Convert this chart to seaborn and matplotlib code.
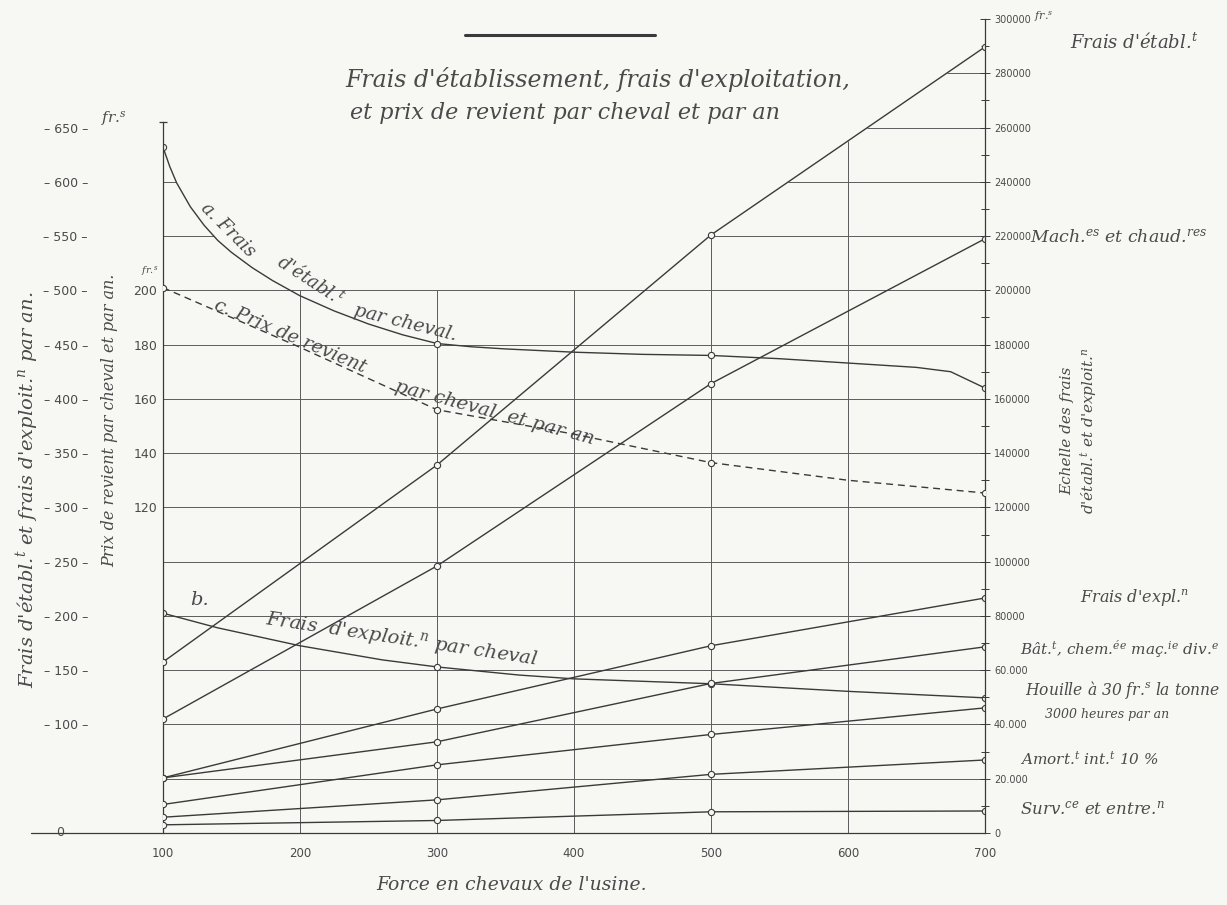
import matplotlib
matplotlib.use("Agg")
import matplotlib.pyplot as plt
import seaborn as sns
import numpy as np

# Force de l'usine (chevaux) aux points relevés
force = [100, 300, 500, 700]

# Frais annuels totaux en francs (échelle de droite)
frais_etabl = [63000, 135600, 220400, 289700]
mach_chaud = [42000, 98400, 165600, 219000]
frais_expl = [20300, 45700, 69000, 86600]
bat_chem = [20300, 33600, 55100, 68600]
houille = [10500, 25100, 36300, 46100]
amort_int = [5800, 12200, 21600, 26900]
surv_entre = [3000, 4600, 7800, 8100]

# courbe a : frais d'établissement par cheval (fr.)
force_a = [100, 105, 110, 120, 130, 140, 150, 165, 180, 200, 225, 250, 275,
           300, 325, 350, 400, 450, 500, 550, 600, 650, 675, 700]
etabl_cheval = [632, 614, 599, 577, 560, 546, 535, 521, 509, 495, 481, 469, 459,
                451, 448, 446, 443, 441, 440, 437, 433, 429, 425, 410]

# courbe b : frais d'exploitation par cheval (fr.)
force_b = [100, 140, 200, 260, 300, 360, 400, 500, 600, 700]
expl_cheval = [202.5, 189, 172.5, 159.5, 153, 145.5, 142, 137.5, 130.5, 124.5]

# courbe c : prix de revient par cheval et par an (fr.)
force_c = [100, 200, 300, 400, 500, 600, 700]
prix_revient = [201, 179, 156, 147, 136.5, 130, 125.3]

# échelles
x_ticks = [100, 200, 300, 400, 500, 600, 700]
left_ticks = [100, 150, 200, 250, 300, 350, 400, 450, 500, 550, 600, 650]
prix_ticks = [120, 140, 160, 180, 200]
right_ticks = list(range(0, 300001, 20000))
right_labels = ["0", "20.000", "40.000", "60.000", "80000", "100000", "120000",
                "140000", "160000", "180000", "200000", "220000", "240000",
                "260000", "280000", "300000"]

PAPER = "#f7f7f4"
INK = "#3a3a3a"
GRID = "#5c5c5c"
TXT = "#4a4a4a"

sns.set_theme(style="white")
plt.rcParams["font.family"] = ["DejaVu Sans"]
plt.rcParams["mathtext.fontset"] = "dejavuserif"
plt.rcParams["mathtext.default"] = "it"

SCRIPT = dict(family="DejaVu Serif", style="italic", color=TXT)

fig = plt.figure(figsize=(12.27, 9.05), dpi=100, facecolor=PAPER)
ax = fig.add_axes([0.1328, 0.0796, 0.6699, 0.8994])
ax.set_facecolor("none")
ax2 = ax.twinx()   # francs
ax3 = ax.twinx()   # prix de revient
for a_ in (ax2, ax3):
    a_.set_facecolor("none")

ax.set_xlim(100, 700)
ax.set_ylim(0, 750)
ax2.set_ylim(0, 300000)
ax3.set_ylim(0, 300)

# ---- quadrillage
ax.hlines(left_ticks[:9] + [50], 100, 700, color=GRID, lw=0.7)
ax.vlines([200, 300, 400], 0, 500, color=GRID, lw=0.7)
top_500_600 = np.interp([500, 600], force, frais_etabl) / 400
ax.vlines([500, 600], 0, top_500_600, color=GRID, lw=0.7)
for lev in [550, 600, 650, 700]:
    x0 = np.interp(lev * 400, frais_etabl, force)
    ax.hlines(lev, x0, 700, color=GRID, lw=0.7)
for lev in [550, 600]:
    x1 = np.interp(lev, etabl_cheval[::-1], force_a[::-1])
    ax.hlines(lev, 100, x1, color=GRID, lw=0.7)

# ---- frais totaux
mk = dict(marker="o", markersize=4.5, markerfacecolor=PAPER,
          markeredgecolor=INK, markeredgewidth=0.8)
for serie in [frais_etabl, mach_chaud, frais_expl, bat_chem,
              houille, amort_int, surv_entre]:
    sns.lineplot(x=force, y=serie, ax=ax2, color=INK, lw=1.0, **mk)

# ---- courbes par cheval
sns.lineplot(x=force_a, y=etabl_cheval, ax=ax, color=INK, lw=1.0,
             markevery=[force_a.index(f) for f in force], **mk)
sns.lineplot(x=force_b, y=expl_cheval, ax=ax, color=INK, lw=1.0,
             markevery=[force_b.index(f) for f in force], **mk)
sns.lineplot(x=force_c, y=prix_revient, ax=ax3, color=INK, lw=1.0,
             linestyle=(0, (5, 3.5)),
             markevery=[force_c.index(f) for f in force], **mk)

# ---- axes
for a_ in (ax, ax2, ax3):
    for s in a_.spines.values():
        s.set_visible(False)
ax.spines["left"].set_visible(True)
ax.spines["left"].set_bounds(0, 655)
ax.spines["left"].set_color(INK)
ax.spines["left"].set_linewidth(0.9)
ax.hlines(655, 97, 103, color=INK, lw=0.9, clip_on=False)
ax2.spines["right"].set_visible(True)
ax2.spines["right"].set_color(INK)
ax2.spines["right"].set_linewidth(0.9)
ax.plot([4, 700], [0, 0], color=INK, lw=0.9, clip_on=False)

ax.set_xticks(x_ticks)
ax.tick_params(axis="x", length=0, pad=10, labelsize=8.5, labelcolor=TXT)
ax.set_yticks(left_ticks, labels=[f"– {v} –" for v in left_ticks])
ax.tick_params(axis="y", length=0, pad=54, labelsize=9, labelcolor=TXT)

ax3.yaxis.tick_left()
ax3.set_yticks(prix_ticks)
ax3.tick_params(axis="y", length=0, pad=4, labelsize=9, labelcolor=TXT)

ax2.set_yticks(right_ticks, labels=right_labels)
ax2.set_yticks(list(range(10000, 300000, 20000)), minor=True)
ax2.tick_params(axis="y", which="major", direction="inout", length=7, width=0.7,
                color=INK, pad=3, labelsize=7, labelcolor=TXT)
ax2.tick_params(axis="y", which="minor", direction="inout", length=6, width=0.7,
                color=INK)
ax.set_xlabel("")
ax.set_ylabel("")
ax2.set_ylabel("")
ax3.set_ylabel("")

# ---- textes
ax.text(24.8, 0, "0", ha="center", va="center", fontsize=9, color=TXT)
ax.text(55, 657, "fr.$^{s}$", ha="left", va="center", fontsize=11, **SCRIPT)
ax.text(90.5, 518, "fr.$^{s}$", ha="center", va="center", fontsize=7, **SCRIPT)
ax.text(736, 752, "fr.$^{s}$", ha="left", va="center", fontsize=8, **SCRIPT)

ax.text(1.5, 316, "Frais d'établ.$^{t}$ et frais d'exploit.$^{n}$ par an.",
        rotation=90, ha="center", va="center", fontsize=14, **SCRIPT)
ax.text(61.3, 380.5, "Prix de revient par cheval et par an.",
        rotation=90, ha="center", va="center", fontsize=11.5, **SCRIPT)
ax.text(769.3, 371, "Echelle des frais\nd'établ.$^{t}$ et d'exploit.$^{n}$",
        rotation=90, ha="center", va="center", fontsize=11,
        linespacing=1.25, **SCRIPT)

ax.text(417.5, 693.8, "Frais d'établissement, frais d'exploitation,",
        ha="center", va="center", fontsize=17, **SCRIPT)
ax.text(393.4, 663.4, "et prix de revient par cheval et par an",
        ha="center", va="center", fontsize=16, **SCRIPT)
ax.plot([320.4, 459.1], [735.3, 735.3], color=INK, lw=2.2, clip_on=False)

ax.text(354.7, -47.9, "Force en chevaux de l'usine.", ha="center", va="center",
        fontsize=13.5, **SCRIPT)

ax.text(762, 728, "Frais d'établ.$^{t}$", ha="left", va="center", fontsize=13, **SCRIPT)
ax.text(733, 548, "Mach.$^{es}$ et chaud.$^{res}$", ha="left", va="center",
        fontsize=12.5, **SCRIPT)
ax.text(769.3, 216.5, "Frais d'expl.$^{n}$", ha="left", va="center", fontsize=11.5, **SCRIPT)
ax.text(725.5, 168.6, "Bât.$^{t}$, chem.$^{ée}$ maç.$^{ie}$ div.$^{e}$", ha="left",
        va="center", fontsize=11, **SCRIPT)
ax.text(729, 131.8, "Houille à 30 fr.$^{s}$ la tonne", ha="left", va="center",
        fontsize=11.2, **SCRIPT)
ax.text(743.8, 109.6, "3000 heures par an", ha="left", va="center",
        fontsize=9, **SCRIPT)
ax.text(725.5, 68, "Amort.$^{t}$ int.$^{t}$ 10 %", ha="left", va="center",
        fontsize=11, **SCRIPT)
ax.text(725.5, 22, "Surv.$^{ce}$ et entre.$^{n}$", ha="left", va="center",
        fontsize=12, **SCRIPT)

ax.text(147.4, 556, "a. Frais", rotation=-45, ha="center", va="center",
        fontsize=13, **SCRIPT)
ax.text(207, 509, "d'établ.$^{t}$", rotation=-33, ha="center", va="center",
        fontsize=13, **SCRIPT)
ax.text(277, 470, "par cheval.", rotation=-14, ha="center", va="center",
        fontsize=13.5, **SCRIPT)
ax.text(192.7, 458, "c. Prix de revient", rotation=-23, ha="center",
        va="center", fontsize=13.5, **SCRIPT)
ax.text(342.3, 387, "par cheval  et par an", rotation=-15, ha="center",
        va="center", fontsize=14, **SCRIPT)
ax.text(127, 214.7, "b.", ha="center", va="center", fontsize=14, **SCRIPT)
ax.text(274.5, 178.5, "Frais  d'exploit.$^{n}$ par cheval", rotation=-8.5,
        ha="center", va="center", fontsize=14, **SCRIPT)

fig.savefig("out.png", dpi=100, facecolor=PAPER)
